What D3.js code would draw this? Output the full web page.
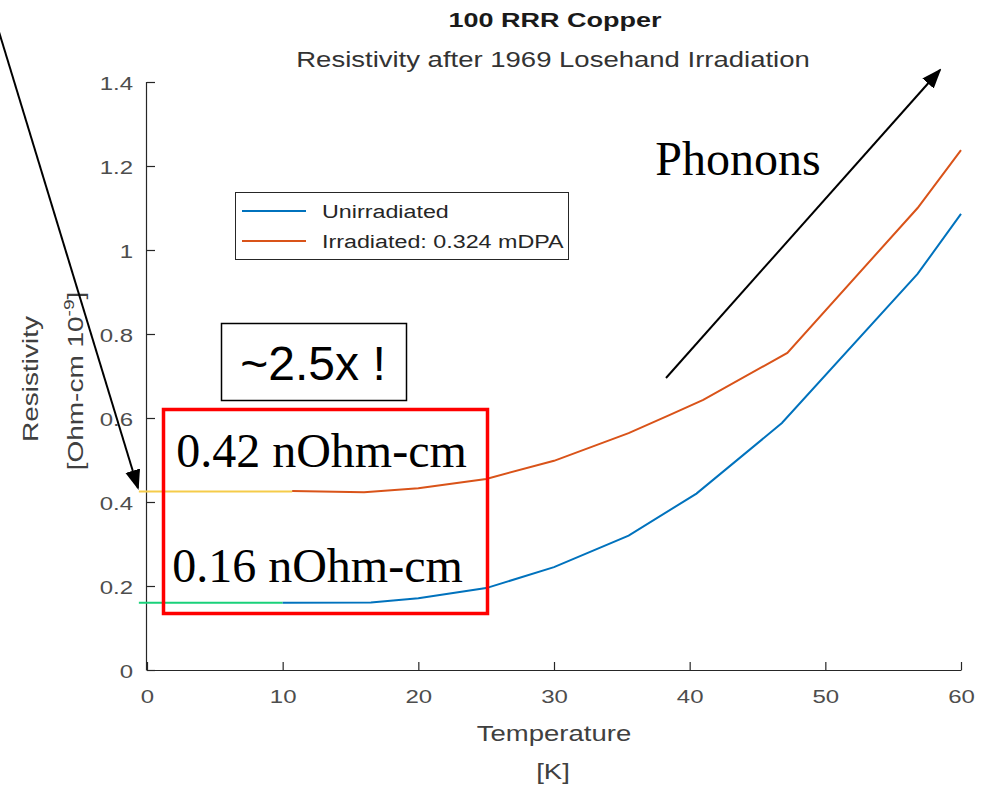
<!DOCTYPE html>
<html><head><meta charset="utf-8">
<script src="https://cdn.jsdelivr.net/npm/d3@7"></script>
<style>body{margin:0;background:#fff}svg{display:block}</style>
</head><body><svg id="c" width="999" height="785"></svg>
<script>
const unirrT = [10, 16.5, 20, 25, 30, 35.5, 40.5, 46.8, 56.8, 60];
const unirrR = [0.16, 0.161, 0.171, 0.195, 0.245, 0.32, 0.42, 0.588, 0.943, 1.086];
const irrT = [10.7, 16, 20, 25, 30, 35.5, 38.5, 41, 47.2, 56.8, 60];
const irrR = [0.426, 0.423, 0.433, 0.455, 0.498, 0.564, 0.607, 0.643, 0.755, 1.1, 1.238];
const xTicks = [0, 10, 20, 30, 40, 50, 60];
const yTicks = [0, 0.2, 0.4, 0.6, 0.8, 1, 1.2, 1.4];
const seriesNames = ["Unirradiated", "Irradiated: 0.324 mDPA"];
const seriesColors = ["#0072BD", "#D95319"];
const baseLevels = [0.425, 0.16];
const baseEnds = [10.7, 10];
const baseColors = ["#F5CC4A", "#19D17A"];

const svg = d3.select("#c");
const font = "Liberation Sans, Arial, sans-serif";
const serif = "Liberation Serif, Times New Roman, serif";
const SY = 0.78; // vertical squash of the original figure text
const x = d3.scaleLinear().domain([0, 60]).range([147, 961]);
const y = d3.scaleLinear().domain([0, 1.4]).range([670, 82]);

const defs = svg.append("defs");
defs.append("marker").attr("id","ah").attr("viewBox","0 0 10 10").attr("refX",9).attr("refY",5)
  .attr("markerWidth",20).attr("markerHeight",20).attr("markerUnits","userSpaceOnUse").attr("orient","auto")
  .append("path").attr("d","M0,1.2 L10,5 L0,8.8 Z").attr("fill","#000");

function mtext(px, py, str, size, opts = {}) {
  const t = svg.append("text").attr("transform", `translate(${px},${py}) scale(1,${SY})`)
    .attr("text-anchor", opts.anchor || "middle").attr("font-family", font).attr("font-size", size)
    .attr("fill", opts.fill || "#404040").text(str);
  if (opts.bold) t.attr("font-weight", "bold");
  return t;
}

// axes
const axCol = "#262626";
const xa = svg.append("g").attr("transform","translate(0,670)")
  .call(d3.axisBottom(x).tickValues(xTicks).tickSize(-8).tickFormat(d3.format("d")));
const ya = svg.append("g").attr("transform","translate(147,0)")
  .call(d3.axisLeft(y).tickValues(yTicks).tickSize(-8).tickFormat(d => d === 0 || d === 1 ? d : d3.format(".1f")(d)));
[xa, ya].forEach(g => {
  g.select(".domain").attr("stroke", axCol).attr("stroke-width",1.2);
  g.selectAll(".tick line").attr("stroke", axCol).attr("stroke-width",1.2);
  g.selectAll(".tick text").attr("fill","#4d4d4d").attr("font-family",font).attr("font-size",24)
    .attr("x",0).attr("y",0).attr("dy",0);
});
xa.selectAll(".tick text").attr("transform",`translate(0,33) scale(1,${SY})`);
ya.selectAll(".tick text").attr("transform",`translate(-14,7) scale(1,${SY})`);
ya.select(".domain").attr("d","M-0.5,82V670.5");
xa.select(".domain").attr("d","M147,0.5H961.5");

// titles and labels
mtext(555, 27, "100 RRR Copper", 27, {bold: true, fill: "#1a1a1a"});
mtext(553, 67, "Resistivity after 1969 Losehand Irradiation", 27.5, {fill: "#333"});
mtext(554, 741, "Temperature", 27.5);
mtext(553, 779, "[K]", 27.5);
const yl1 = svg.append("g").attr("transform", `translate(38,379) scale(${SY},1) rotate(-90)`);
yl1.append("text").attr("text-anchor","middle").attr("font-family",font).attr("font-size",28).attr("fill","#404040").text("Resistivity");
const yl2g = svg.append("g").attr("transform", `translate(83,381) scale(${SY},1) rotate(-90)`);
const yl2 = yl2g.append("text").attr("text-anchor","middle").attr("font-family",font).attr("font-size",28).attr("fill","#404040");
yl2.append("tspan").text("[Ohm-cm 10");
yl2.append("tspan").attr("dy",-11).attr("font-size",19).text("-9");
yl2.append("tspan").attr("dy",11).text("]");

// base level lines
baseLevels.forEach((v,i) => {
  svg.append("line").attr("x1",x(-0.6)).attr("x2",x(baseEnds[i])).attr("y1",y(v)).attr("y2",y(v))
    .attr("stroke",baseColors[i]).attr("stroke-width",2);
});

// series
const line = d3.line().x(d=>x(d[0])).y(d=>y(d[1]));
[[unirrT,unirrR],[irrT,irrR]].forEach((s,i) => {
  svg.append("path").datum(s[0].map((t,j)=>[t,s[1][j]])).attr("d",line)
    .attr("fill","none").attr("stroke",seriesColors[i]).attr("stroke-width",2);
});

// legend
svg.append("rect").attr("x",235.5).attr("y",192.5).attr("width",333).attr("height",67)
  .attr("fill","#fff").attr("stroke","#262626").attr("stroke-width",1);
seriesNames.forEach((n,i) => {
  const ly = 211 + i*30;
  svg.append("line").attr("x1",242).attr("x2",306).attr("y1",ly).attr("y2",ly).attr("stroke",seriesColors[i]).attr("stroke-width",2);
  mtext(322, ly+7, n, 23.3, {anchor: "start", fill: "#262626"});
});

// annotations
svg.append("rect").attr("x",163.5).attr("y",409.5).attr("width",324).attr("height",204)
  .attr("fill","none").attr("stroke","#ff0000").attr("stroke-width",3.5);
svg.append("rect").attr("x",221.5).attr("y",323.5).attr("width",185).attr("height",77)
  .attr("fill","#fff").attr("stroke","#000").attr("stroke-width",1.5);
svg.append("text").attr("x",313).attr("y",380).attr("text-anchor","middle").attr("font-family",font)
  .attr("font-size",48).attr("fill","#000").text("~2.5x !");
svg.append("text").attr("x",321.5).attr("y",467).attr("text-anchor","middle").attr("font-family",serif)
  .attr("font-size",48).attr("fill","#000").text("0.42 nOhm-cm");
svg.append("text").attr("x",317.5).attr("y",582).attr("text-anchor","middle").attr("font-family",serif)
  .attr("font-size",48).attr("fill","#000").text("0.16 nOhm-cm");
svg.append("text").attr("x",738).attr("y",175).attr("text-anchor","middle").attr("font-family",serif)
  .attr("font-size",48).attr("fill","#000").text("Phonons");
svg.append("line").attr("x1",666).attr("y1",378).attr("x2",940).attr("y2",70)
  .attr("stroke","#000").attr("stroke-width",2).attr("marker-end","url(#ah)");
svg.append("line").attr("x1",-4).attr("y1",22).attr("x2",138).attr("y2",488)
  .attr("stroke","#000").attr("stroke-width",2).attr("marker-end","url(#ah)");
</script></body></html>
